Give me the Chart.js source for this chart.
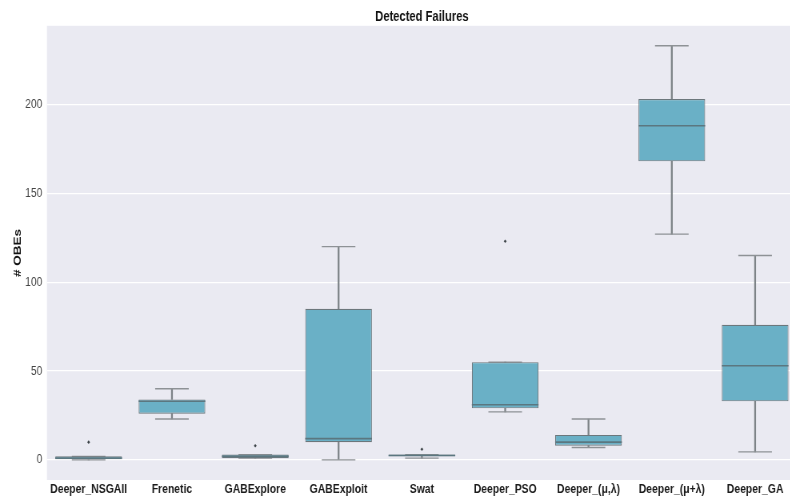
<!DOCTYPE html>
<html>
<head>
<meta charset="utf-8">
<script src="https://cdn.jsdelivr.net/npm/chart.js@4/dist/chart.umd.min.js"></script>
<style>
    html, body { margin: 0; padding: 0; background: #fff; overflow: hidden; }
    /* horizontally condensed rendering, like the narrow export */
    #wrap { width: 996px; height: 499px; transform: scaleX(0.8); transform-origin: 0 0; }
</style>
</head>
<body>
<div id="wrap"><canvas id="chart" width="996" height="499"></canvas></div>
<script>
// Failures found per tool (box summaries)
const tools = ["Deeper_NSGAII", "Frenetic", "GABExplore", "GABExploit", "Swat", "Deeper_PSO", "Deeper_(μ,λ)", "Deeper_(μ+λ)", "Deeper_GA"];
const mins    = [0, 23, 1, 0, 1, 27, 7, 127, 4.5];
const q1s     = [0, 26, 1, 10, 2, 29, 8, 168, 33];
const medians = [1, 33, 2, 12, 2.5, 31, 10, 188, 53];
const q3s     = [2, 34, 3, 85, 3, 55, 14, 203, 76];
const maxs    = [2, 40, 3, 120, 3, 55, 23, 233, 115];
const outliers = [10, null, 8, null, 6, 123, null, null, null];
const yTicks = [0, 50, 100, 150, 200];

const SANS = "'Liberation Sans', Arial, sans-serif";
const boxFill = "#6ab0c6";
const lineGray = "#7d8387";

// seaborn-like grey plot background
const plotBg = {
    id: "plotBg",
    beforeDraw(chart) {
        const { ctx, chartArea: a } = chart;
        ctx.save();
        ctx.fillStyle = "#eaeaf2";
        ctx.fillRect(a.left, a.top, a.right - a.left, a.bottom - a.top);
        ctx.restore();
    },
};

// keep the plot flush with the axes (no label overhang padding)
function noOverhang(scale) {
    scale.paddingLeft = 0;
    scale.paddingRight = 0;
    scale.paddingTop = 0;
    scale.paddingBottom = 0;
}

const data = {
    labels: tools,
    datasets: [
        {
            type: "bar",
            label: "box",
            data: tools.map((t, i) => [q1s[i], q3s[i]]),
            backgroundColor: boxFill,
            borderColor: "#6c777c",
            borderWidth: 1.1,
            borderSkipped: false,
            barPercentage: 0.8,
            categoryPercentage: 1,
            grouped: false,
            order: 1,
        },
        {
            type: "bar",
            label: "lowWhisker",
            data: tools.map((t, i) => [mins[i], q1s[i]]),
            backgroundColor: lineGray,
            barThickness: 1.6,
            grouped: false,
            order: 3,
        },
        {
            type: "bar",
            label: "highWhisker",
            data: tools.map((t, i) => [q3s[i], maxs[i]]),
            backgroundColor: lineGray,
            barThickness: 1.6,
            grouped: false,
            order: 3,
        },
        {
            type: "line",
            label: "lowCap",
            data: mins,
            showLine: false,
            pointStyle: "line",
            pointRadius: 21,
            borderColor: "#8e9296",
            pointBorderWidth: 1.4,
            order: 2,
        },
        {
            type: "line",
            label: "highCap",
            data: maxs,
            showLine: false,
            pointStyle: "line",
            pointRadius: 21,
            borderColor: "#8e9296",
            pointBorderWidth: 1.4,
            order: 2,
        },
        {
            type: "line",
            label: "median",
            data: medians,
            showLine: false,
            pointStyle: "line",
            pointRadius: 41.7,
            borderColor: "#5b7780",
            pointBorderWidth: 1.6,
            order: 0,
        },
        {
            type: "line",
            label: "outliers",
            data: outliers,
            showLine: false,
            pointStyle: "rectRot",
            pointRadius: 1.8,
            backgroundColor: "#3d4448",
            borderColor: "#3d4448",
            borderWidth: 0,
            order: 0,
        },
    ],
};

const config = {
    type: "bar",
    data: data,
    plugins: [plotBg],
    options: {
        responsive: false,
        animation: false,
        layout: { padding: 0, autoPadding: false },
        plugins: {
            legend: { display: false },
            tooltip: { enabled: false },
            title: {
                display: true,
                text: "Detected Failures",
                fullSize: false,
                color: "#111",
                font: { family: SANS, size: 14, weight: "bold" },
                padding: { top: 9, bottom: 0 },
            },
        },
        scales: {
            x: {
                offset: true,
                grid: { display: false, drawTicks: false },
                border: { display: false },
                ticks: {
                    color: "#1a1a1a",
                    padding: 2,
                    autoSkip: false,
                    maxRotation: 0,
                    font: { family: SANS, size: 13, weight: "bold" },
                },
                afterFit(scale) {
                    noOverhang(scale);
                    scale.height = 19;
                },
            },
            y: {
                min: -11.3,
                max: 244.2,
                grid: { color: "#ffffff", lineWidth: 1.2, drawTicks: false },
                border: { display: false },
                ticks: {
                    color: "#444",
                    padding: 6,
                    font: { family: SANS, size: 12.7 },
                },
                afterBuildTicks(scale) { scale.ticks = yTicks.map((v) => ({ value: v })); },
                title: {
                    display: true,
                    text: "# OBEs",
                    color: "#111",
                    font: { family: SANS, size: 13.5, weight: "bold" },
                    padding: { top: 13.8, bottom: 0 },
                },
                afterFit(scale) {
                    noOverhang(scale);
                    scale.width = 58.75;
                },
            },
        },
    },
};

const chart = new Chart(document.getElementById("chart"), config);
</script>
</body>
</html>
